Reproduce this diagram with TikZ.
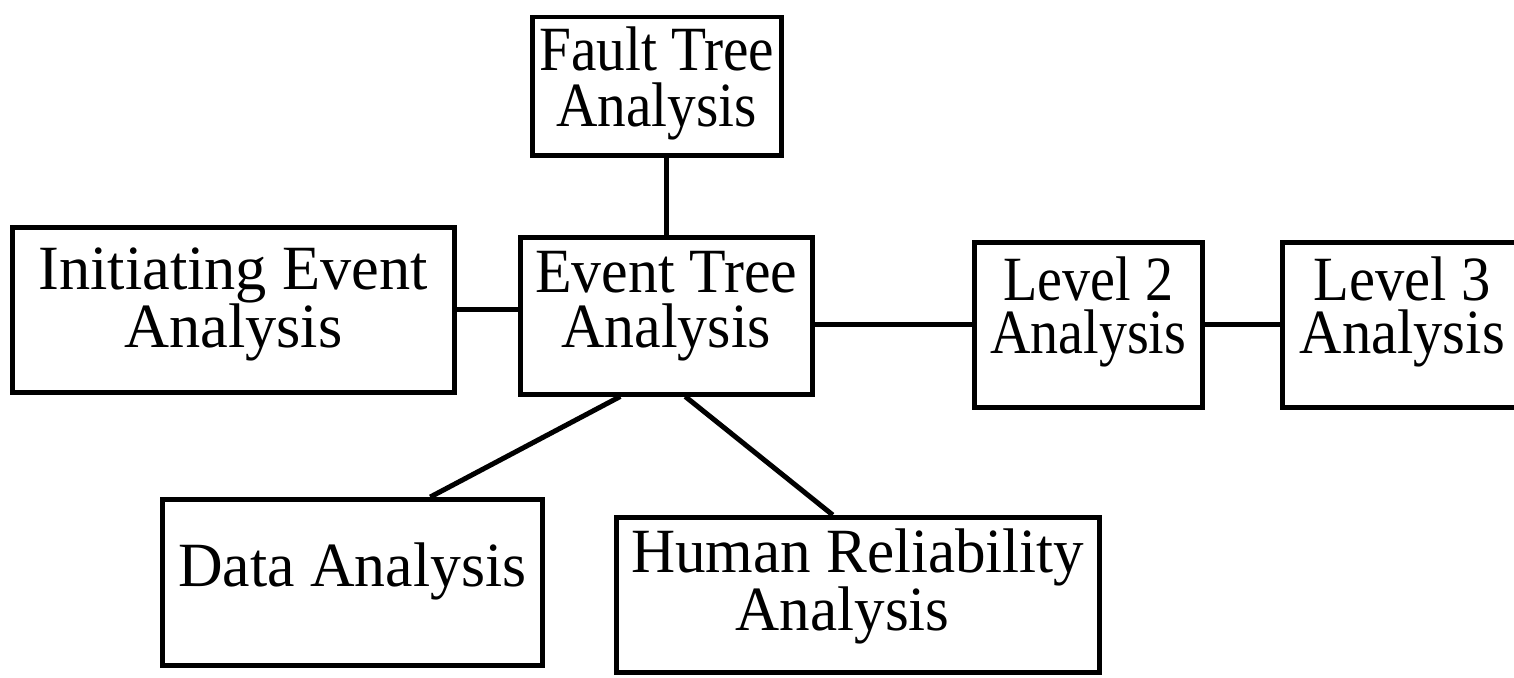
\documentclass[tikz,border=0pt]{standalone}
\usepackage{fontspec}
\setmainfont{Liberation Serif}
% #1 stretch, #2 width, #3 height, #4 first baseline from top, #5 line skip, #6 text
\newcommand\boxtxt[6]{\parbox[t][#3][t]{#2}{\centering\fontsize{63}{#5}\selectfont\addfontfeature{FakeStretch=#1}\rule{0pt}{#4}#6}}
\tikzset{
  blk/.style={draw, line width=4.5pt, inner sep=0pt, anchor=north west},
  conn/.style={line width=5pt}
}
\begin{document}
\begin{tikzpicture}[x=1pt,y=-1pt]
\useasboundingbox (0,0) rectangle (1514,677);
\node[blk] (ft) at (530,15) {\boxtxt{0.91}{249pt}{138pt}{53pt}{56pt}{Fault Tree\\Analysis}};
\node[blk] (ie) at (10,225) {\boxtxt{0.99}{442pt}{165pt}{62pt}{53pt}{Initiating Event\\Analysis}};
\node[blk] (et) at (518,235) {\boxtxt{0.95}{292pt}{157pt}{55pt}{55pt}{Event Tree\\Analysis}};
\node[blk] (l2) at (972,240) {\boxtxt{0.89}{228pt}{165pt}{58pt}{53pt}{Level 2\\Analysis}};
\node[blk] (l3) at (1280,240) {\boxtxt{0.93}{240pt}{165pt}{58pt}{53pt}{Level 3\\Analysis}};
\node[blk] (da) at (160,497) {\boxtxt{0.98}{380pt}{166pt}{87pt}{50pt}{Data Analysis}};
\node[blk] (hr) at (614,515) {\boxtxt{0.97}{483pt}{155pt}{55pt}{53pt}{Human Reliability\\\hspace*{-30pt}Analysis}};
\draw[conn] (et.north |- ft.south) -- (et.north);
\draw[conn] (ie.east) -- (ie.east -| et.west);
\draw[conn] (l2.west -| et.east) -- (l2.west);
\draw[conn] (l2.east) -- (l2.east -| l3.west);
\draw[conn] ([xshift=-46pt]et.south) -- ([xshift=78pt]da.north);
\draw[conn] ([xshift=19pt]et.south) -- ([xshift=-25pt]hr.north);
\end{tikzpicture}
\end{document}
